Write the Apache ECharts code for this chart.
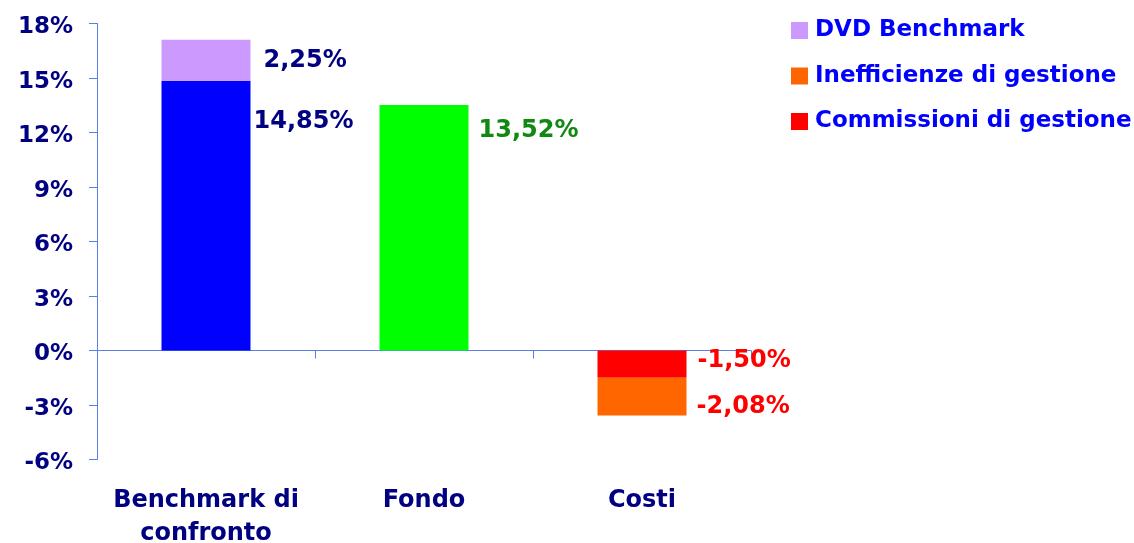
<!DOCTYPE html>
<html>
<head>
<meta charset="utf-8">
<script src="https://cdn.jsdelivr.net/npm/echarts@6/dist/echarts.min.js"></script>
<style>
html,body{margin:0;padding:0;background:#fff;}
#c{width:1134px;height:543px;}
</style>
</head>
<body>
<div id="c"></div>
<script>
const categories = ['Benchmark di\nconfronto', 'Fondo', 'Costi'];
const benchmark = [14.85, null, null];
const dvdBenchmark = [2.25, null, null];
const fondo = [null, 13.52, null];
const commissioni = [null, null, -1.50];
const inefficienze = [null, null, -2.08];
const yMin = -6, yMax = 18, yInterval = 3;
const legendNames = ['DVD Benchmark', 'Inefficienze di gestione', 'Commissioni di gestione'];

const FONT = 'DejaVu Sans';
const NAVY = '#000080';
const AXIS = '#5B7FE6';
const fmt = p => p.value.toFixed(2).replace('.', ',') + '%';
const lbl = (color, extra) => Object.assign({
  show: true, formatter: fmt, color: color, fontFamily: FONT, fontWeight: 'bold', fontSize: 24
}, extra);

const chart = echarts.init(document.getElementById('c'), null, {renderer: 'canvas'});
chart.setOption({
  backgroundColor: '#ffffff',
  animation: false,
  grid: {left: 97, right: 383, top: 23.5, bottom: 83.5, containLabel: false, outerBoundsMode: 'none'},
  legend: {
    orient: 'vertical', left: 786, top: 14,
    itemWidth: 17, itemHeight: 17, itemGap: 22.5, icon: 'rect',
    data: legendNames,
    textStyle: {color: '#0000FF', fontFamily: FONT, fontWeight: 'bold', fontSize: 23, lineHeight: 22, padding: [0, 0, 0, 2]}
  },
  xAxis: {
    type: 'category', data: categories,
    axisLine: {show: true, onZero: true, lineStyle: {color: AXIS, width: 1}},
    axisTick: {show: true, length: 8, lineStyle: {color: AXIS}},
    axisLabel: {interval: 0, hideOverlap: false, margin: 25, color: NAVY, fontFamily: FONT, fontWeight: 'bold', fontSize: 24, lineHeight: 33, verticalAlign: 'top'},
    splitLine: {show: false}
  },
  yAxis: {
    type: 'value', min: yMin, max: yMax, interval: yInterval,
    axisLine: {show: true, lineStyle: {color: AXIS, width: 1}},
    axisTick: {show: true, length: 8, lineStyle: {color: AXIS}},
    axisLabel: {margin: 24, verticalAlign: 'top', lineHeight: 8, color: NAVY, fontFamily: FONT, fontWeight: 'bold', fontSize: 23, formatter: v => v + '%'},
    splitLine: {show: false}
  },
  series: [
    {name: 'Benchmark di confronto', type: 'bar', stack: 's', barWidth: 89, data: benchmark,
     itemStyle: {color: '#0000FF'},
     label: lbl(NAVY, {position: ['100%', 41], offset: [3, 0], align: 'left', verticalAlign: 'middle'})},
    {name: 'Fondo', type: 'bar', stack: 's', barWidth: 89, data: fondo,
     itemStyle: {color: '#00FF00'},
     label: lbl('#118811', {position: ['100%', 26], offset: [10, 0], align: 'left', verticalAlign: 'middle'})},
    {name: 'DVD Benchmark', type: 'bar', stack: 's', barWidth: 89, data: dvdBenchmark,
     itemStyle: {color: '#CC99FF'},
     label: lbl(NAVY, {position: 'right', distance: 13})},
    {name: 'Commissioni di gestione', type: 'bar', stack: 's', barWidth: 89, data: commissioni,
     itemStyle: {color: '#FF0000'},
     label: lbl('#FF0000', {position: ['100%', 10], offset: [11, 0], align: 'left', verticalAlign: 'middle'})},
    {name: 'Inefficienze di gestione', type: 'bar', stack: 's', barWidth: 89, data: inefficienze,
     itemStyle: {color: '#FF6600'},
     label: lbl('#FF0000', {position: ['100%', 29], offset: [10, 0], align: 'left', verticalAlign: 'middle'})}
  ]
});
</script>
</body>
</html>
